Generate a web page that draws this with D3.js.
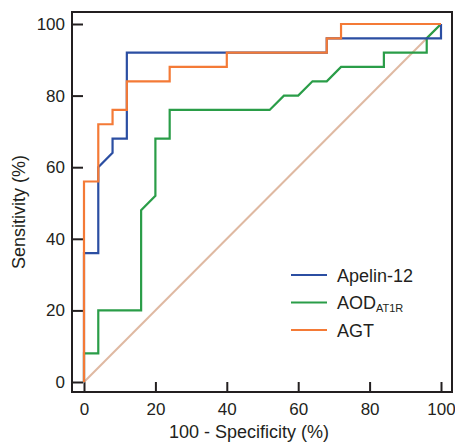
<!DOCTYPE html>
<html>
<head>
<meta charset="utf-8">
<script src="https://cdn.jsdelivr.net/npm/d3@7"></script>
<style>
  body { margin: 0; background: #fff; }
  svg { font-family: "Liberation Sans", Arial, Helvetica, sans-serif; }
  .axis text { fill: #231f20; font-size: 17px; }
  .axis line { stroke: #231f20; stroke-width: 2; }
</style>
</head>
<body>
<svg id="chart" width="455" height="443"></svg>
<script>
// ROC curve points: [100 - specificity, sensitivity]
const apelin = [[0,0],[0,36],[4,36],[4,60],[8,64],[8,68],[12,68],[12,92],[68,92],[68,96],[100,96],[100,100]];
const aod = [[0,0],[0,8],[4,8],[4,20],[16,20],[16,48],[20,52],[20,68],[24,68],[24,76],[52,76],[56,80],[60,80],[64,84],[68,84],[72,88],[84,88],[84,92],[96,92],[96,96],[100,100]];
const agt = [[0,0],[0,56],[4,56],[4,72],[8,72],[8,76],[12,76],[12,84],[24,84],[24,88],[40,88],[40,92],[68,92],[68,96],[72,96],[72,100],[100,100]];
const reference = [[0,0],[100,100]];
const xTicks = [0, 20, 40, 60, 80, 100];
const yTicks = [0, 20, 40, 60, 80, 100];

const series = [
  {name: 'Apelin-12', sub: '', color: '#2b4ea2', pts: apelin},
  {name: 'AOD', sub: 'AT1R', color: '#2a9d48', pts: aod},
  {name: 'AGT', sub: '', color: '#f47a36', pts: agt}
];

const svg = d3.select('#chart');
const frame = {left: 72, right: 452, top: 12, bottom: 392};

const x = d3.scaleLinear().domain([0, 100]).range([84, 441]);
const y = d3.scaleLinear().domain([0, 100]).range([382, 24]);

// axes (ticks point inward)
svg.append('g').attr('class', 'axis')
  .attr('transform', `translate(0,${frame.bottom})`)
  .call(d3.axisBottom(x).tickValues(xTicks).tickSizeInner(-10).tickSizeOuter(0).tickPadding(11))
  .call(g => g.select('.domain').remove());

svg.append('g').attr('class', 'axis')
  .attr('transform', `translate(${frame.left},0)`)
  .call(d3.axisLeft(y).tickValues(yTicks).tickSizeInner(-11).tickSizeOuter(0).tickPadding(7))
  .call(g => g.select('.domain').remove());

// chance line
const line = d3.line().x(d => x(d[0])).y(d => y(d[1]));
svg.append('path').datum(reference)
  .attr('d', line).attr('fill', 'none')
  .attr('stroke', '#dfb9a2').attr('stroke-width', 2);

// curves: green first, then blue, orange on top
[series[1], series[0], series[2]].forEach(s => {
  svg.append('path').datum(s.pts)
    .attr('d', line).attr('fill', 'none')
    .attr('stroke', s.color).attr('stroke-width', 2.2)
    .attr('stroke-linejoin', 'miter');
});

// frame
svg.append('rect')
  .attr('x', frame.left).attr('y', frame.top)
  .attr('width', frame.right - frame.left).attr('height', frame.bottom - frame.top)
  .attr('fill', 'none').attr('stroke', '#231f20').attr('stroke-width', 2);

// axis titles
svg.append('text')
  .attr('x', 249).attr('y', 438)
  .attr('text-anchor', 'middle').attr('font-size', 18).attr('fill', '#231f20')
  .text('100 - Specificity (%)');

svg.append('text')
  .attr('transform', 'translate(25,212) rotate(-90)')
  .attr('text-anchor', 'middle').attr('font-size', 18).attr('fill', '#231f20')
  .text('Sensitivity (%)');

// legend
const legend = svg.append('g').attr('transform', 'translate(291,275)');
const items = legend.selectAll('g').data(series).join('g')
  .attr('transform', (d, i) => `translate(0,${i * 27.5})`);
items.append('line')
  .attr('x1', 0).attr('x2', 36).attr('y1', 0).attr('y2', 0)
  .attr('stroke', d => d.color).attr('stroke-width', 2.2);
const label = items.append('text')
  .attr('x', 46).attr('y', 6.5)
  .attr('font-size', 18).attr('fill', '#231f20');
label.append('tspan').text(d => d.name);
label.filter(d => d.sub).append('tspan')
  .attr('font-size', 11).attr('dy', 3).text(d => d.sub);
</script>
</body>
</html>
